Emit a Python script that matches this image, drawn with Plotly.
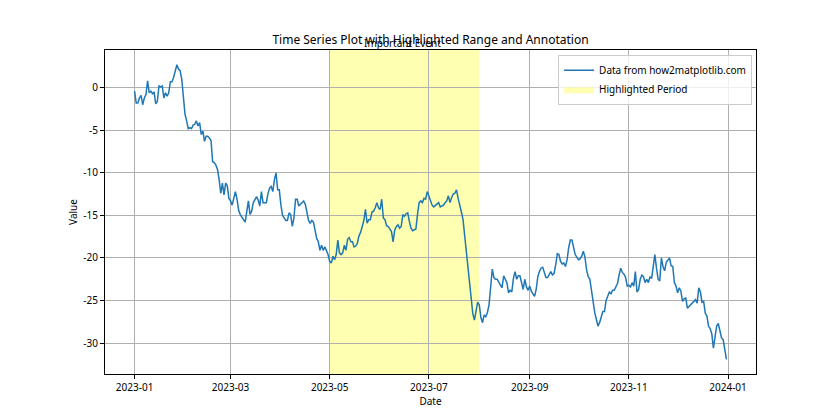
import pandas as pd
import plotly.graph_objects as go

start_date = "2023-01-01"
values = [
    -0.4, -1.8, -1.8, -1.2, -0.9, -2.0, -1.2, -0.8, 0.8, -0.6,
    -0.4, -0.7, -0.5, -1.9, -1.6, 0.2, 0.1, 0.2, -1.2, -0.6,
    -1.0, -0.6, 0.7, 0.7, 1.2, 2.0, 2.7, 2.2, 2.0, 1.0,
    -1.6, -3.1, -3.9, -4.8, -4.7, -4.8, -4.4, -4.3, -3.9, -4.5,
    -4.1, -5.5, -5.1, -6.3, -5.7, -5.7, -5.9, -6.2, -8.7, -8.8,
    -9.1, -9.6, -10.8, -12.4, -11.2, -12.6, -11.2, -11.5, -13.0, -13.3,
    -13.8, -12.8, -12.2, -13.1, -14.4, -14.9, -15.3, -15.5, -15.8, -14.7,
    -13.3, -14.9, -14.5, -13.5, -13.1, -12.8, -13.2, -13.9, -12.2, -13.5,
    -13.5, -13.5, -12.5, -11.8, -11.6, -12.2, -10.8, -10.0, -12.0, -12.0,
    -13.8, -15.0, -15.3, -15.6, -15.6, -14.7, -14.9, -16.3, -15.3, -13.1,
    -13.1, -13.9, -13.7, -13.5, -13.3, -13.7, -14.9, -15.6, -15.9, -15.6,
    -15.8, -16.8, -17.7, -18.1, -19.1, -18.5, -19.1, -18.7, -19.1, -19.6,
    -20.4, -20.6, -19.8, -20.2, -19.6, -17.9, -19.4, -19.6, -19.4, -18.5,
    -19.1, -17.8, -17.6, -18.1, -18.1, -18.7, -18.6, -18.3, -17.4, -17.0,
    -16.3, -15.6, -14.3, -15.9, -15.5, -15.5, -14.6, -14.5, -14.1, -13.5,
    -14.1, -14.3, -13.1, -15.3, -15.5, -16.2, -16.3, -16.7, -16.9, -18.1,
    -16.7, -16.3, -16.1, -16.5, -16.3, -14.9, -15.1, -14.8, -14.7, -15.7,
    -16.5, -16.8, -16.7, -16.6, -14.9, -13.5, -13.3, -13.5, -13.0, -13.1,
    -12.2, -12.8, -13.2, -13.8, -14.0, -13.8, -13.7, -13.5, -14.0, -13.9,
    -13.8, -13.5, -13.3, -12.7, -13.5, -12.9, -12.5, -12.4, -12.0, -13.0,
    -14.0, -14.6, -15.5, -17.4, -18.6, -21.0, -23.0, -25.0, -26.5, -27.3,
    -26.0, -25.2, -25.5, -27.0, -27.6, -26.7, -26.9, -26.4, -25.5, -23.5,
    -21.3, -22.3, -22.5, -22.5, -22.8, -23.1, -23.5, -22.1, -22.5, -22.9,
    -24.1, -23.8, -24.0, -22.4, -21.6, -22.5, -22.1, -22.1, -22.9, -23.7,
    -22.5, -23.4, -23.8, -23.3, -23.9, -24.3, -24.5, -23.7, -22.2, -21.6,
    -21.2, -21.1, -21.8, -22.3, -22.3, -21.9, -21.6, -22.0, -21.8, -20.8,
    -19.5, -19.6, -20.4, -20.7, -20.6, -21.0, -20.2, -18.8, -17.9, -17.9,
    -18.6, -19.6, -19.9, -20.2, -20.1, -19.8, -19.2, -19.9, -21.4, -22.2,
    -22.5, -24.0, -25.4, -26.4, -27.2, -28.0, -27.6, -26.8, -26.3, -26.3,
    -25.0, -24.5, -24.0, -24.2, -23.8, -23.8, -23.3, -23.0, -22.0, -21.2,
    -21.7, -21.9, -22.3, -23.3, -23.2, -23.4, -22.9, -23.3, -21.6, -24.0,
    -23.7, -22.5, -22.0, -22.2, -22.9, -22.5, -22.9, -22.2, -22.4, -21.0,
    -19.6, -21.2, -22.5, -22.7, -20.0, -21.0, -21.5, -20.5, -20.2, -20.0,
    -20.9, -21.0, -22.9, -23.3, -24.1, -23.5, -23.9, -25.1, -24.8, -24.7,
    -25.9, -25.7, -25.5, -25.3, -25.1, -24.9, -25.3, -23.5, -24.0, -25.2,
    -25.1, -26.5, -26.8, -28.0, -28.3, -28.9, -30.6, -29.2, -28.0, -27.7,
    -28.4, -29.4, -29.6, -30.8, -31.9,
]
highlight_start = "2023-05-01"
highlight_end = "2023-08-01"
event_date = "2023-06-15"
event_label = "Important Event"
x_tick_dates = ["2023-01-01", "2023-03-01", "2023-05-01", "2023-07-01",
                "2023-09-01", "2023-11-01", "2024-01-01"]
x_tick_labels = ["2023-01", "2023-03", "2023-05", "2023-07", "2023-09", "2023-11", "2024-01"]
y_ticks = [0, -5, -10, -15, -20, -25, -30]

dates = pd.date_range(start_date, periods=len(values), freq="D")

# matplotlib-like 5% margins
span = dates[-1] - dates[0]
x_range = [dates[0] - 0.05 * span, dates[-1] + 0.05 * span]
vmin, vmax = min(values), max(values)
pad = 0.05 * (vmax - vmin)
y_range = [vmin - pad, vmax + pad]

FONT = "Noto Sans"

fig = go.Figure()
fig.add_vrect(x0=highlight_start, x1=highlight_end, fillcolor="yellow",
              opacity=0.3, line_width=0, layer="below")
fig.add_trace(go.Scatter(x=dates, y=values, mode="lines",
                         line=dict(color="#1f77b4", width=1.5),
                         name="Data from how2matplotlib.com"))
fig.add_trace(go.Scatter(x=[None], y=[None], mode="lines", fill="toself",
                         fillcolor="rgba(255,255,0,0.3)",
                         line=dict(width=0, color="rgba(255,255,0,0.3)"),
                         name="Highlighted Period"))

fig.add_annotation(x=event_date, y=1.021, xref="x", yref="paper",
                   text=event_label, showarrow=False, yanchor="middle",
                   font=dict(family=FONT, size=10, color="black"))

axis_common = dict(showline=True, linecolor="black", linewidth=1, mirror=True,
                   ticks="outside", ticklen=4, tickcolor="black", tickwidth=1,
                   showgrid=True, gridcolor="#b0b0b0", gridwidth=0.8,
                   zeroline=False, tickfont=dict(family=FONT, size=10, color="black"))

fig.update_xaxes(range=x_range, tickvals=x_tick_dates, ticktext=x_tick_labels,
                 title=dict(text="Date", font=dict(family=FONT, size=10, color="black"), standoff=4),
                 **axis_common)
fig.update_yaxes(range=y_range, tickvals=y_ticks, ticktext=[str(t) for t in y_ticks],
                 title=dict(text="Value", font=dict(family=FONT, size=10, color="black"), standoff=3),
                 **axis_common)

fig.update_layout(
    width=840, height=420,
    margin=dict(l=105, r=84, t=50, b=46),
    paper_bgcolor="white", plot_bgcolor="white",
    title=dict(text="Time Series Plot with Highlighted Range and Annotation",
               x=(105 + 325.5) / 840, xanchor="center", y=1 - 40 / 420, yanchor="middle",
               font=dict(family=FONT, size=12, color="black")),
    legend=dict(x=0.994, xanchor="right", y=0.985, yanchor="top",
                bgcolor="rgba(255,255,255,0.8)", bordercolor="#cccccc", borderwidth=1,
                font=dict(family=FONT, size=10, color="black"), tracegroupgap=0,
                itemwidth=30),
    showlegend=True,
)

fig.write_html("out.html", config={"displayModeBar": False},
               post_script="document.body.style.margin='0';document.body.style.padding='0';")
